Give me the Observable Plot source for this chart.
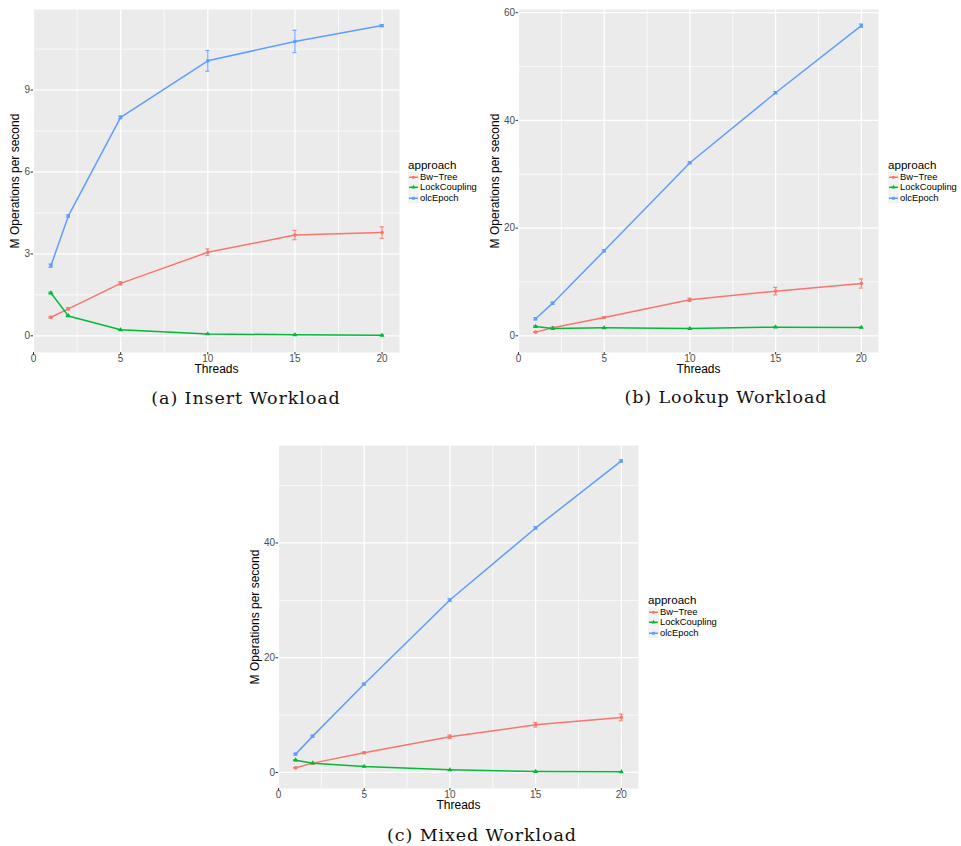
<!DOCTYPE html>
<html><head><meta charset="utf-8">
<script src="https://cdn.jsdelivr.net/npm/d3@7"></script>
<script src="https://cdn.jsdelivr.net/npm/@observablehq/plot@0.6"></script>
<style>
body{margin:0;background:#fff;}
#root{position:relative;width:961px;height:846px;overflow:hidden;font-family:"Liberation Sans",Arial,sans-serif;background:#fff;}
.panel{position:absolute;}
.caption{position:absolute;font-family:"DejaVu Serif",serif;font-size:17.5px;letter-spacing:0.9px;transform:translate(-50%,-50%);white-space:nowrap;color:#111;line-height:20px;}
.legend{position:absolute;color:#000;}
.legend .title{font-size:11.6px;line-height:12px;height:12px;white-space:nowrap;margin-bottom:0.6px;}
.legend .item{height:10.5px;line-height:10.5px;font-size:9.4px;white-space:nowrap;display:flex;align-items:center;}
.legend .item svg{display:block;margin-right:1px;}
</style></head><body><div id="root"></div>
<script>
const threads = [1, 2, 5, 10, 15, 20];
const approaches = ["Bw\u2212Tree", "LockCoupling", "olcEpoch"];
const colors = ["#F8766D", "#00BA38", "#619CFF"];
const symbols = ["circle", "triangle", "square"];
const xTicks = [0, 5, 10, 15, 20];
const xMinor = [2.5, 7.5, 12.5, 17.5];
const yLabel = "M Operations per second";
const xLabel = "Threads";
const legendTitle = "approach";

// (a) Insert Workload
const insertBwTree = [0.68, 0.99, 1.92, 3.06, 3.69, 3.78];
const insertBwTreeErr = [0.03, 0.04, 0.06, 0.12, 0.17, 0.21];
const insertLockCoupling = [1.57, 0.73, 0.22, 0.07, 0.04, 0.02];
const insertLockCouplingErr = [0.03, 0.02, 0.01, 0.01, 0.01, 0.01];
const insertOlcEpoch = [2.57, 4.39, 8.00, 10.07, 10.78, 11.36];
const insertOlcEpochErr = [0.06, 0.04, 0.05, 0.38, 0.41, 0.04];
const insertYTicks = [0, 3, 6, 9];
const insertYMinor = [1.5, 4.5, 7.5, 10.5];

// (b) Lookup Workload
const lookupBwTree = [0.68, 1.49, 3.40, 6.69, 8.29, 9.72];
const lookupBwTreeErr = [0.05, 0.1, 0.15, 0.3, 0.7, 0.85];
const lookupLockCoupling = [1.73, 1.36, 1.49, 1.36, 1.61, 1.55];
const lookupLockCouplingErr = [0.1, 0.05, 0.05, 0.05, 0.05, 0.05];
const lookupOlcEpoch = [3.16, 6.06, 15.79, 32.14, 45.14, 57.59];
const lookupOlcEpochErr = [0.2, 0.2, 0.2, 0.2, 0.2, 0.3];
const lookupYTicks = [0, 20, 40, 60];
const lookupYMinor = [10, 30, 50];

// (c) Mixed Workload
const mixedBwTree = [0.81, 1.63, 3.43, 6.22, 8.31, 9.59];
const mixedBwTreeErr = [0.05, 0.1, 0.15, 0.3, 0.4, 0.58];
const mixedLockCoupling = [2.15, 1.63, 1.05, 0.47, 0.17, 0.12];
const mixedLockCouplingErr = [0.08, 0.05, 0.05, 0.03, 0.03, 0.03];
const mixedOlcEpoch = [3.20, 6.34, 15.41, 30.06, 42.62, 54.30];
const mixedOlcEpochErr = [0.15, 0.15, 0.15, 0.2, 0.2, 0.2];
const mixedYTicks = [0, 20, 40];
const mixedYMinor = [10, 30, 50];

const captions = ["(a) Insert Workload", "(b) Lookup Workload", "(c) Mixed Workload"];

function rowsOf(series, errs) {
  const rows = [];
  series.forEach((vals, i) => {
    vals.forEach((v, j) => rows.push({threads: threads[j], value: v, err: errs[i][j], approach: approaches[i]}));
  });
  return rows;
}

function makePanel(cfg) {
  const rows = rowsOf(cfg.series, cfg.errs);
  const cap = 0.12;
  const plot = Plot.plot({
    width: cfg.width, height: 380,
    marginLeft: 33, marginRight: 1, marginTop: 9, marginBottom: 28,
    style: {fontFamily: "'Liberation Sans', Arial, sans-serif", fontSize: "10px", background: "transparent", overflow: "visible"},
    x: {domain: [0, 21]},
    y: {domain: cfg.yDomain},
    color: {domain: approaches, range: colors},
    symbol: {domain: approaches, range: symbols},
    marks: [
      Plot.frame({fill: "#ebebeb"}),
      Plot.ruleY(cfg.yMinor, {stroke: "white", strokeWidth: 0.7}),
      Plot.ruleX(xMinor, {stroke: "white", strokeWidth: 0.7}),
      Plot.ruleY(cfg.yTicks, {stroke: "white", strokeWidth: 1.25}),
      Plot.ruleX(xTicks, {stroke: "white", strokeWidth: 1.25}),
      Plot.ruleX(rows, {x: "threads", y1: d => d.value - d.err, y2: d => d.value + d.err, stroke: "approach", strokeWidth: 1.2, strokeOpacity: 0.85}),
      Plot.ruleY(rows, {y: d => d.value - d.err, x1: d => d.threads - cap, x2: d => d.threads + cap, stroke: "approach", strokeWidth: 1.2, strokeOpacity: 0.85}),
      Plot.ruleY(rows, {y: d => d.value + d.err, x1: d => d.threads - cap, x2: d => d.threads + cap, stroke: "approach", strokeWidth: 1.2, strokeOpacity: 0.85}),
      Plot.line(rows, {x: "threads", y: "value", z: "approach", stroke: "approach", strokeWidth: 1.5}),
      Plot.dot(rows, {x: "threads", y: "value", fill: "approach", symbol: "approach", r: 1.8}),
      Plot.axisX({ticks: xTicks, tickSize: 2.5, tickPadding: 0, fontSize: 10, fill: "#4d4d4d", stroke: "#333333", label: null}),
      Plot.axisY({ticks: cfg.yTicks, tickSize: 2.5, tickPadding: 1, fontSize: 10, fill: "#4d4d4d", stroke: "#333333", label: null}),
      Plot.text([xLabel], {frameAnchor: "bottom", dy: 17, lineAnchor: "middle", fontSize: 12, fill: "black"}),
      Plot.text([yLabel], {frameAnchor: "left", dx: cfg.ylabDx, rotate: -90, textAnchor: "middle", lineAnchor: "middle", fontSize: 12, fill: "black"})
    ]
  });
  plot.classList.add("panel");
  plot.style.left = cfg.left + "px";
  plot.style.top = cfg.top + "px";
  root.appendChild(plot);

  // legend
  const lg = document.createElement("div");
  lg.className = "legend";
  lg.style.left = cfg.legendX + "px";
  lg.style.top = (cfg.legendY - 6) + "px";
  const t = document.createElement("div");
  t.className = "title";
  t.textContent = legendTitle;
  lg.appendChild(t);
  approaches.forEach((a, i) => {
    const it = document.createElement("div");
    it.className = "item";
    const svg = d3.create("svg").attr("width", 11).attr("height", 10.5);
    svg.append("rect").attr("width", 11).attr("height", 10.5).attr("fill", "#f2f2f2");
    svg.append("line").attr("x1", 1).attr("x2", 10).attr("y1", 5.25).attr("y2", 5.25).attr("stroke", colors[i]).attr("stroke-width", 1.5);
    const sym = {circle: d3.symbolCircle, triangle: d3.symbolTriangle, square: d3.symbolSquare}[symbols[i]];
    svg.append("path").attr("d", d3.symbol(sym, 8)()).attr("transform", "translate(5.5,5.25)").attr("fill", colors[i]);
    it.appendChild(svg.node());
    const sp = document.createElement("span");
    sp.textContent = a;
    it.appendChild(sp);
    lg.appendChild(it);
  });
  root.appendChild(lg);

  const c = document.createElement("div");
  c.className = "caption";
  c.style.left = cfg.capX + "px";
  c.style.top = cfg.capY + "px";
  c.textContent = cfg.caption;
  root.appendChild(c);
}

const root = document.getElementById("root");

makePanel({
  left: 0, top: 0, width: 400,
  series: [insertBwTree, insertLockCoupling, insertOlcEpoch],
  errs: [insertBwTreeErr, insertLockCouplingErr, insertOlcEpochErr],
  yDomain: [-0.61, 11.95], yTicks: insertYTicks, yMinor: insertYMinor, ylabDx: -18.6,
  legendX: 408, legendY: 165, caption: captions[0], capX: 246, capY: 398
});
makePanel({
  left: 485, top: 0, width: 394,
  series: [lookupBwTree, lookupLockCoupling, lookupOlcEpoch],
  errs: [lookupBwTreeErr, lookupLockCouplingErr, lookupOlcEpochErr],
  yDomain: [-3.1, 60.6], yTicks: lookupYTicks, yMinor: lookupYMinor, ylabDx: -23,
  legendX: 888, legendY: 165, caption: captions[1], capX: 726, capY: 397
});
makePanel({
  left: 245, top: 436, width: 394,
  series: [mixedBwTree, mixedLockCoupling, mixedOlcEpoch],
  errs: [mixedBwTreeErr, mixedLockCouplingErr, mixedOlcEpochErr],
  yDomain: [-2.79, 56.99], yTicks: mixedYTicks, yMinor: mixedYMinor, ylabDx: -23,
  legendX: 648, legendY: 600, caption: captions[2], capX: 482, capY: 835
});
</script>
</body></html>
